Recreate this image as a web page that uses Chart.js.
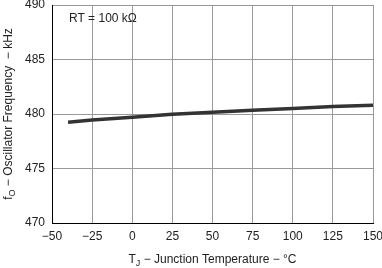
<!DOCTYPE html>
<html>
<head>
<meta charset="utf-8">
<script src="https://cdn.jsdelivr.net/npm/chart.js@4"></script>
<style>
  html, body { margin: 0; padding: 0; background: #fff; }
  #wrap { width: 382px; height: 268px; }
</style>
</head>
<body>
<div id="wrap"><canvas id="chart"></canvas></div>
<script>
const temps = [-40, -25, 0, 25, 50, 75, 100, 125, 150];
const freq = [479.25, 479.45, 479.7, 479.98, 480.15, 480.35, 480.5, 480.68, 480.8];
const xTicks = [-50, -25, 0, 25, 50, 75, 100, 125, 150];
const yTicks = [470, 475, 480, 485, 490];

const FONT = "Liberation Sans, Arial, sans-serif";

// draws titles with subscripts and the RT note
const labelsPlugin = {
    id: "labels",
    afterDraw(chart) {
        const ctx = chart.ctx;
        const area = chart.chartArea;
        ctx.save();
        ctx.fillStyle = "#222";
        ctx.textBaseline = "alphabetic";

        // note
        ctx.font = "12px " + FONT;
        ctx.textAlign = "left";
        ctx.fillText("RT = 100 k\u03A9", area.left + 17, area.top + 17);

        // x title
        const xParts = [["T", 12, 0], ["J", 9, 3], [" \u2212 Junction Temperature \u2212 \u00B0C", 12, 0]];
        drawParts(ctx, xParts, (area.left + area.right) / 2, 263);

        // y title, rotated
        ctx.translate(12, (area.top + area.bottom) / 2);
        ctx.rotate(-Math.PI / 2);
        const yParts = [["f", 12, 0], ["O", 9, 3], [" \u2212 Oscillator Frequency  \u2212 kHz", 12, 0]];
        drawParts(ctx, yParts, 0, 0);
        ctx.restore();
    }
};

function drawParts(ctx, parts, cx, y) {
    let total = 0;
    parts.forEach(p => { ctx.font = p[1] + "px " + FONT; total += ctx.measureText(p[0]).width; });
    let x = cx - total / 2;
    ctx.textAlign = "left";
    parts.forEach(p => {
        ctx.font = p[1] + "px " + FONT;
        ctx.fillText(p[0], x, y + p[2]);
        x += ctx.measureText(p[0]).width;
    });
}

new Chart(document.getElementById("chart"), {
    type: "line",
    data: {
        datasets: [{
            data: temps.map((t, i) => ({ x: t, y: freq[i] })),
            borderColor: "#333",
            borderWidth: 3.5,
            pointRadius: 0,
            tension: 0,
            fill: false
        }]
    },
    options: {
        responsive: true,
        maintainAspectRatio: false,
        animation: false,
        devicePixelRatio: 1,
        layout: { padding: { top: 0, right: 0, left: 0, bottom: 0 } },
        plugins: { legend: { display: false }, tooltip: { enabled: false } },
        scales: {
            x: {
                type: "linear",
                min: -50, max: 150,
                afterBuildTicks: s => { s.ticks = xTicks.map(v => ({ value: v })); },
                afterFit: s => { s.height = 45; s.paddingRight = 9; s.paddingLeft = 0; },
                grid: { color: "#999", lineWidth: 1, drawTicks: false },
                border: { color: "#000", width: 1 },
                ticks: { color: "#222", font: { family: FONT, size: 12 }, padding: 6, maxRotation: 0,
                         callback: v => v < 0 ? "\u2212" + Math.abs(v) : v }
            },
            y: {
                min: 470, max: 490,
                afterBuildTicks: s => { s.ticks = yTicks.map(v => ({ value: v })); },
                afterFit: s => { s.width = 52; s.paddingTop = 5; s.paddingBottom = 0; },
                grid: { color: "#999", lineWidth: 1, drawTicks: false },
                border: { color: "#000", width: 1 },
                ticks: { color: "#222", font: { family: FONT, size: 12 }, padding: 7 }
            }
        }
    },
    plugins: [labelsPlugin]
});
</script>
</body>
</html>
